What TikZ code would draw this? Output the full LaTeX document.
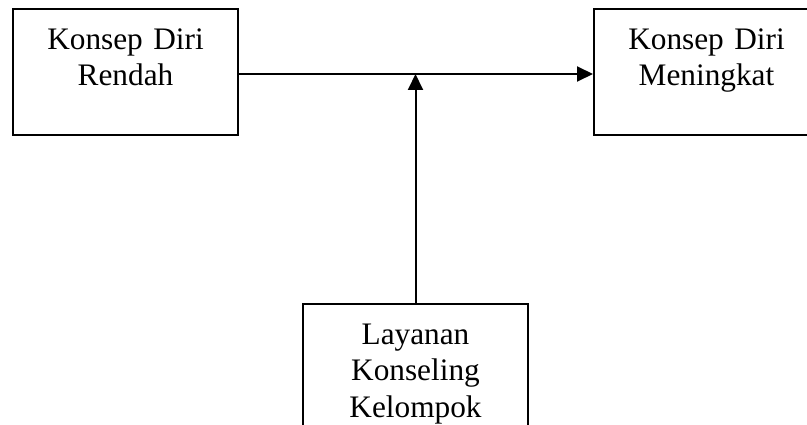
\documentclass[tikz,border=0pt]{standalone}
\usepackage{fontspec}
\setmainfont{Liberation Serif}
\usetikzlibrary{arrows.meta,positioning}

\begin{document}
\begin{tikzpicture}[x=1pt,y=1pt,->,>={Triangle[length=16pt,width=15pt]},line width=2pt,
  box/.style={draw,-,inner sep=0pt,align=center,text width=225pt,font=\fontsize{31.3}{36.6}\selectfont,text height=40.3pt,text depth=85.7pt},
  open box/.style={box,text depth=160pt}]

  \useasboundingbox (0,0) rectangle (807,-425);
  \clip (0,0) rectangle (807,-425);

  \node[box,anchor=north] (rendah) at (125.5,-8) {Konsep Diri\\Rendah};
  \node[box,anchor=north] (meningkat) at (706.5,-8) {Konsep Diri\\Meningkat};
  \node[open box,anchor=north] (layanan) at (415.5,-303) {Layanan\\Konseling\\Kelompok};
  \coordinate (join) at ([yshift=-2pt]layanan.north |- rendah.east);

  \path
       ([yshift=-2pt]rendah.east) edge ([yshift=-2pt]meningkat.west)
       (layanan.north) edge (join);
\end{tikzpicture}
\end{document}
